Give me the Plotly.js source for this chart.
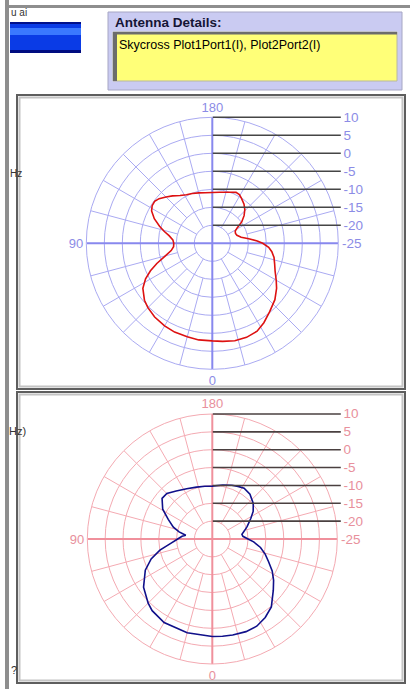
<!DOCTYPE html>
<html><head><meta charset="utf-8">
<script src="https://cdn.plot.ly/plotly-3.0.1.min.js"></script>
<style>html,body{margin:0;padding:0;background:#fff;overflow:hidden}#chart{width:414px;height:689px}</style>
</head><body><div id="chart"></div>
<script>
// ---------- data ----------
const panelTitle = "Antenna Details:";
const antennaText = "Skycross Plot1Port1(I), Plot2Port2(I)";
const spokeAngles = [0,15,30,45,60,75,90,105,120,135,150,165,180,195,210,225,240,255,270,285,300,315,330,345];
const labelAngles = [0, 90, 180];
const labelTexts = ['0', '90', '180'];
const ringValues = [10,5,0,-5,-10,-15,-20];
const ringLabels = ['10','5','0','-5','-10','-15','-20'];
const centerValue = -25;
const centerLabel = '-25';

const plot1Theta = [0,8,15,23,30,38,45,50,57,62,66,70,75,80,85,90,95,100,104,108,113,118,122,126,130,135,140,146,152,158,165,172,180,188,195,200,205,209,213,219,224,229,234,238,242,247,252,258,263,267,270,274,278,283,288,294,300,305,312,320,327,333,340,347,354,360];
const plot1Gain  = [2.1,2.1,1.9,1.8,1.5,1.0,0.3,-0.4,-2.0,-4.0,-6.2,-8.6,-11.5,-13.4,-14.2,-14.3,-14.0,-12.8,-11.2,-9.6,-7.5,-5.9,-5.3,-5.2,-5.7,-6.8,-7.8,-9.0,-9.7,-10.1,-10.5,-10.8,-10.9,-10.7,-10.3,-9.9,-9.4,-9.5,-10.1,-11.0,-12.0,-13.3,-14.9,-16.8,-17.8,-18.0,-17.8,-16.8,-14.8,-12.5,-11.0,-9.3,-8.3,-7.4,-6.8,-5.9,-4.5,-3.2,-1.6,-0.2,1.3,2.4,2.8,2.8,2.4,2.1];

const plot2Theta = [0,15,30,40,45,55,65,72,78,84,90,95,98,102,107,114,121,129,135,143,153,163,172,180,191,200,206,212,220,229,236,242,250,255,261,265,270,274,280,286,292,298,304,310,319,326,333,340,348,354,360];
const plot2Gain  = [2.3,2.2,2.0,1.2,0.4,-1.5,-4.3,-7.0,-10.0,-13.3,-15.3,-16.5,-17.5,-15.5,-13.6,-11.5,-8.8,-6.9,-7.0,-8.2,-9.2,-9.8,-10.1,-10.2,-9.6,-9.0,-8.6,-8.2,-8.6,-9.8,-11.2,-12.8,-14.6,-15.6,-16.6,-16.4,-15.0,-13.4,-11.3,-9.6,-8.0,-6.0,-4.3,-2.7,0.2,1.5,2.4,2.6,2.5,2.4,2.3];

// ---------- geometry helpers ----------
const W = 414, H = 689;
const px = x => x / W;
const py = y => 1 - y / H;
function domainFor(cx, cy, R) {
  return { x: [(cx - R) / W, (cx + R) / W], y: [(H - cy - R) / H, (H - cy + R) / H] };
}
const P1 = {cx: 212.3, cy: 243.3, R: 126};
const P2 = {cx: 212.3, cy: 539, R: 125};
const FONT = 'Liberation Sans, Arial, sans-serif';
const rMax = ringValues[0];
const rInner = ringValues[ringValues.length - 1];

function polarCfg(P, gridC, lblC, tickC) {
  return {
    domain: domainFor(P.cx, P.cy, P.R),
    bgcolor: 'rgba(0,0,0,0)',
    angularaxis: {
      rotation: 270, direction: 'clockwise',
      tickmode: 'array', tickvals: labelAngles, ticktext: labelTexts,
      ticks: '', showline: true, linecolor: gridC, linewidth: 1,
      showgrid: false,
      tickfont: {family: FONT, size: 13, color: lblC}
    },
    radialaxis: {
      range: [centerValue, rMax], angle: 90, side: 'clockwise',
      tickmode: 'array', tickvals: ringValues, ticktext: ringLabels,
      ticks: 'outside', ticklen: 128, tickwidth: 1.6, tickcolor: tickC,
      showline: false, gridcolor: gridC, gridwidth: 1,
      tickangle: 90,
      tickfont: {family: FONT, size: 13.5, color: lblC}
    }
  };
}

// spokes: main 30-degree spokes start at the innermost ring, the in-between ones one ring further out
function spokeTrace(sub, color) {
  const r = [], th = [];
  spokeAngles.forEach(a => {
    if (a % 90 === 0) return;
    r.push(a % 30 === 0 ? rInner : ringValues[ringValues.length - 2], rMax, null);
    th.push(a, a, null);
  });
  return {type: 'scatterpolar', subplot: sub, r: r, theta: th, mode: 'lines', connectgaps: false,
    line: {color: color, width: 1}, hoverinfo: 'skip', showlegend: false};
}

function crossTraces(sub, color) {
  const rr = [rMax, centerValue, rMax];
  return [
    {type: 'scatterpolar', subplot: sub, r: rr, theta: [0, 0, 180], mode: 'lines', line: {color: color, width: 2}, hoverinfo: 'skip', showlegend: false},
    {type: 'scatterpolar', subplot: sub, r: rr, theta: [90, 90, 270], mode: 'lines', line: {color: color, width: 2}, hoverinfo: 'skip', showlegend: false}
  ];
}

const traces = [
  spokeTrace('polar', '#aaaaf2'),
  ...crossTraces('polar', '#8888ee'),
  {type: 'scatterpolar', subplot: 'polar', r: plot1Gain, theta: plot1Theta, mode: 'lines', line: {color: '#dd1111', width: 1.6}, showlegend: false},
  spokeTrace('polar2', '#f4aab2'),
  ...crossTraces('polar2', '#f0909c'),
  {type: 'scatterpolar', subplot: 'polar2', r: plot2Gain, theta: plot2Theta, mode: 'lines', line: {color: '#10108a', width: 1.6}, showlegend: false}
];

function rect(x0, y0, x1, y1, fill, line, lw) {
  return {type: 'rect', xref: 'paper', yref: 'paper', x0: px(x0), x1: px(x1), y0: py(y0), y1: py(y1),
    fillcolor: fill || 'rgba(0,0,0,0)', line: {color: line || 'rgba(0,0,0,0)', width: lw || 0}, layer: 'below'};
}

const shapes = [
  rect(5, 0, 9, 689, '#8e8e8e'),
  rect(9, 5, 410, 8, '#8e8e8e'),
  // blue button
  rect(10, 22, 81, 53, '#0a3be6'),
  rect(10, 22, 81, 24, '#00108a'),
  rect(10, 28, 81, 35, '#3a78ff'),
  rect(10, 50, 81, 53, '#000c80'),
  // antenna details panel
  rect(108, 12, 402, 90, '#cacbf2', '#a6a6c4', 1),
  rect(113, 32, 397, 81, '#ffff78', '#b8b8a0', 1),
  rect(113, 32, 117, 81, '#6c6c6c'),
  rect(113, 32, 397, 34.5, '#6c6c6c'),
  // plot panels
  rect(17, 95, 405, 389, 'rgba(0,0,0,0)', '#5e5e5e', 2),
  rect(19.5, 97.5, 402.5, 386.5, 'rgba(0,0,0,0)', '#c4c4c4', 2),
  rect(17, 392, 405, 683, 'rgba(0,0,0,0)', '#5e5e5e', 2),
  rect(19.5, 394.5, 402.5, 680.5, 'rgba(0,0,0,0)', '#c4c4c4', 2)
];

function ann(x, y, text, opts) {
  return Object.assign({xref: 'paper', yref: 'paper', x: px(x), y: py(y), text: text, showarrow: false,
    xanchor: 'left', yanchor: 'middle', font: {family: FONT, size: 12, color: '#000'}}, opts || {});
}

const annotations = [
  ann(113, 22, '<b>' + panelTitle + '</b>', {font: {family: FONT, size: 13.5, color: '#151535'}}),
  ann(117, 45, antennaText, {font: {family: FONT, size: 12.5, color: '#000'}}),
  ann(P1.cx + P1.R + 2, P1.cy, centerLabel, {font: {family: FONT, size: 13.5, color: '#8c8ce6'}}),
  ann(P2.cx + P2.R + 2, P2.cy, centerLabel, {font: {family: FONT, size: 13.5, color: '#e8909c'}}),
  ann(9, 12, 'u ai', {font: {family: FONT, size: 10, color: '#333'}}),
  ann(8, 173, 'Hz', {font: {family: FONT, size: 10, color: '#333'}}),
  ann(7, 431, 'Hz)', {font: {family: FONT, size: 11, color: '#333'}}),
  ann(9, 670, '?', {font: {family: FONT, size: 11, color: '#333'}})
];

const layout = {
  width: W, height: H,
  margin: {l: 0, r: 0, t: 0, b: 0},
  paper_bgcolor: '#ffffff',
  showlegend: false,
  polar: polarCfg(P1, '#aaaaf2', '#8c8ce6', '#454545'),
  polar2: polarCfg(P2, '#f4aab2', '#e8909c', '#4a4040'),
  shapes: shapes,
  annotations: annotations
};

Plotly.newPlot('chart', traces, layout, {staticPlot: true, displayModeBar: false});
</script>
</body></html>
